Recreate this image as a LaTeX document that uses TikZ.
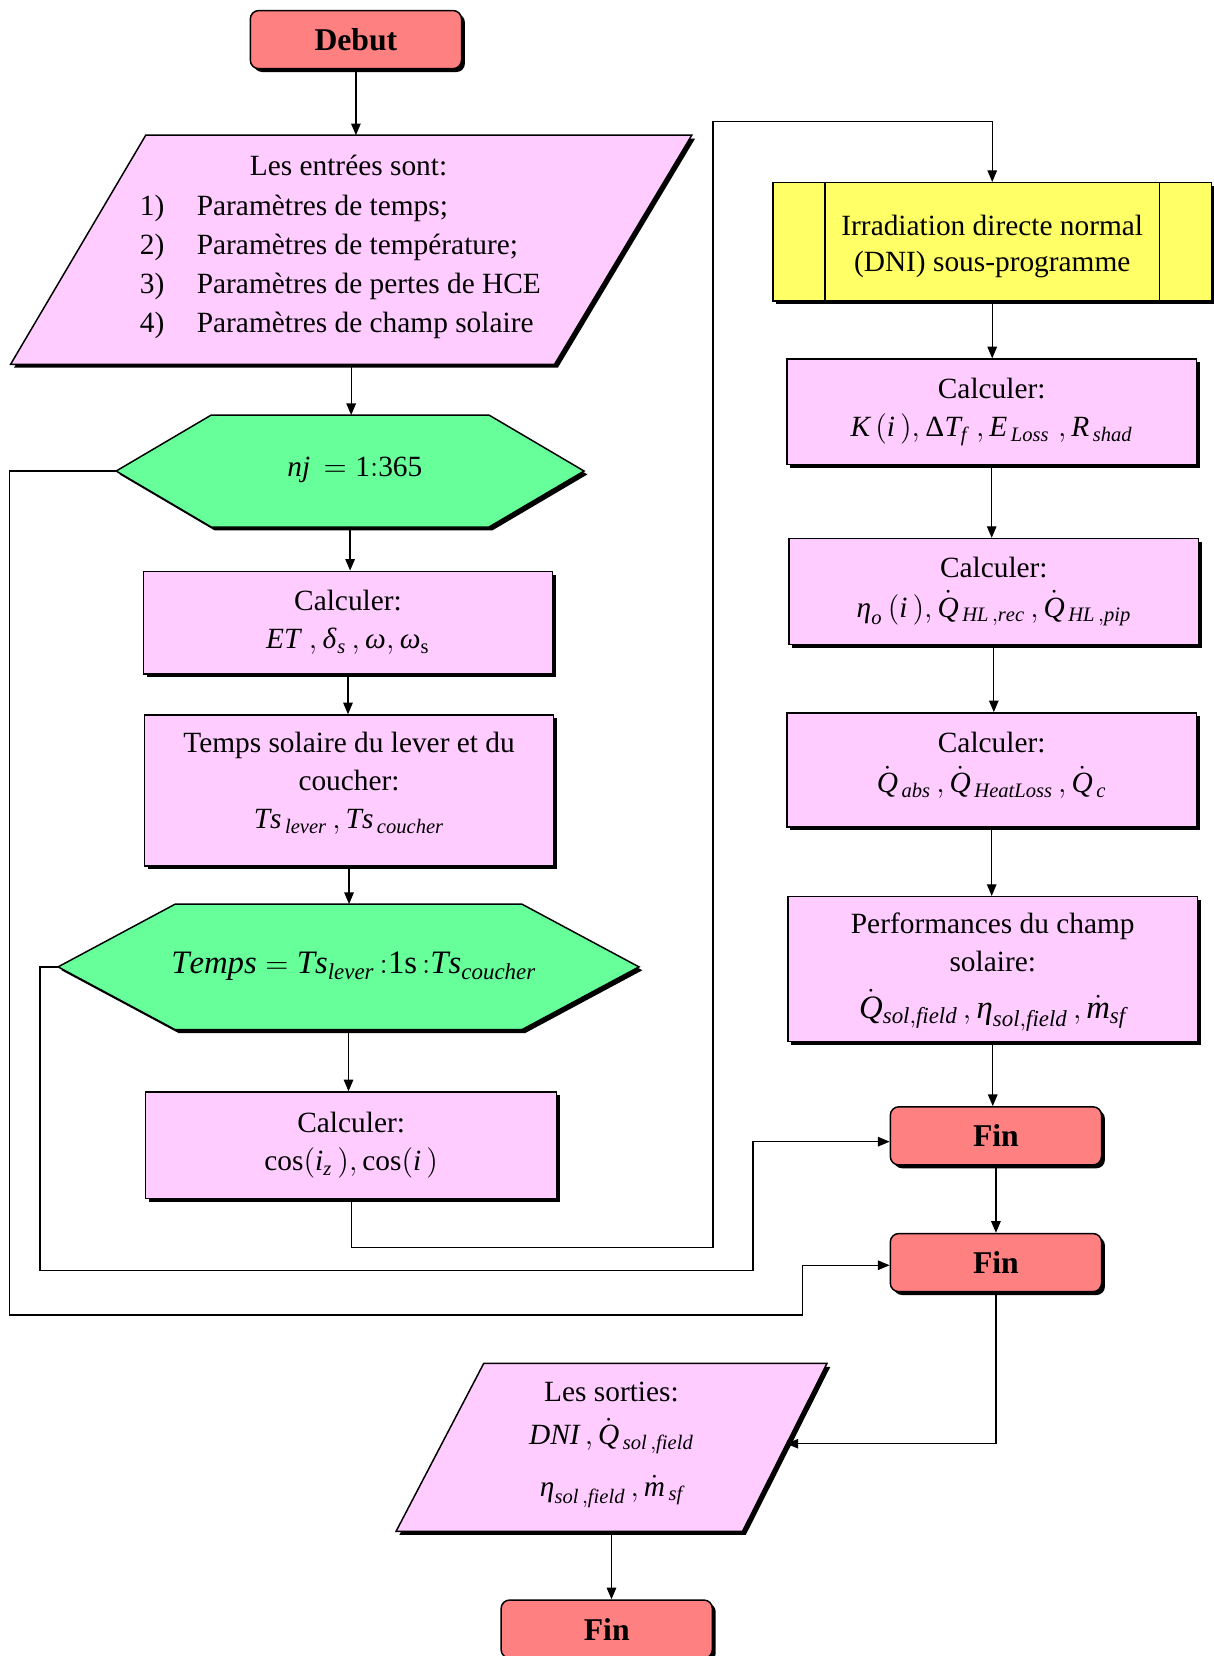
\documentclass[tikz,border=0pt]{standalone}
\usepackage{mathspec}
\setmainfont{Liberation Serif}
\setmathsfont(Digits,Latin,Greek){Liberation Serif}
\setmathrm{Liberation Serif}
\usetikzlibrary{arrows.meta,shadows,calc}
\definecolor{pinkf}{RGB}{255,204,255}
\definecolor{redf}{RGB}{255,128,128}
\definecolor{greenf}{RGB}{102,255,153}
\definecolor{yellowf}{RGB}{255,255,102}
\tikzset{
  dshad/.style={drop shadow={shadow xshift=1.6pt, shadow yshift=-1.6pt, fill=black, opacity=1}},
  shp/.style={draw, line width=0.7pt, dshad},
  box/.style={shp, fill=pinkf, align=center, inner sep=0pt},
  txt/.style={align=center, inner sep=0pt},
  term/.style={shp, fill=redf, rounded corners=4pt, font=\fontsize{15}{18}\selectfont\bfseries,
    minimum width=100pt, minimum height=27.5pt, inner sep=0pt},
  helper/.style={inner sep=0pt, outer sep=0pt},
  arr/.style={line width=0.6pt, -{Triangle[length=5.5pt,width=4.5pt]}},
}
\begin{document}
\begin{tikzpicture}[x=0.5pt, y=-0.5pt, font=\fontsize{13.9}{18}\selectfont]
\useasboundingbox (0,0) rectangle (1149,1568);

% ---------- left column ----------
\node[term] (debut) at (337,37.5) {Debut};

\node[helper, minimum width=322.5pt, minimum height=108.5pt] (inp) at (332.5,236.5) {};
\draw[shp, fill=pinkf] (inp.south west) -- ([xshift=64pt]inp.north west) -- (inp.north east)
  -- ([xshift=-65pt]inp.south east) -- cycle;
\node (inphead) at (330,157) {Les entrées sont:};
\node[align=left, anchor=west, inner sep=0pt, font=\fontsize{13.9}{18.5}\selectfont] (inplist) at (132,253)
  {\makebox[27pt][l]{1)}Paramètres de temps;\\
   \makebox[27pt][l]{2)}Paramètres de température;\\
   \makebox[27pt][l]{3)}Paramètres de pertes de HCE\\
   \makebox[27pt][l]{4)}Paramètres de champ solaire};

\node[helper, minimum width=221.5pt, minimum height=53pt] (nj) at (331.5,446) {};
\draw[shp, fill=greenf] (nj.west) -- ([xshift=45pt]nj.north west) -- ([xshift=-45pt]nj.north east)
  -- (nj.east) -- ([xshift=-45pt]nj.south east) -- ([xshift=45pt]nj.south west) -- cycle;
\node (njtxt) at (336,445) {$nj\,=1{:}365$};

\node[box, minimum width=193.5pt, minimum height=48.5pt] (calc1) at (329.5,589.5)
  {Calculer:\\ $ET\;,\delta_s\,,\omega,\omega_{\mathrm{s}}$};

\node[box, minimum width=193.5pt, minimum height=71.5pt] (ts) at (330.5,748.5) {};
\node[txt] (tstxt) at ([yshift=3.25pt]ts.center)
  {Temps solaire du lever et du\\ coucher:\\ $Ts_{\,lever}\,,Ts_{\,coucher}$};

\node[helper, minimum width=275pt, minimum height=59.5pt] (tps) at (330,915.5) {};
\draw[shp, fill=greenf] (tps.west) -- ([xshift=55.5pt]tps.north west) -- ([xshift=-55.5pt]tps.north east)
  -- (tps.east) -- ([xshift=-55.5pt]tps.south east) -- ([xshift=55.5pt]tps.south west) -- cycle;
\node[font=\fontsize{15.5}{19}\selectfont] (tpstxt) at (335,915)
  {$Temps=Ts_{lever}\,{:}1\mathrm{s}\,{:}Ts_{coucher}$};

\node[box, minimum width=194.5pt, minimum height=50.5pt] (calc2) at (332.5,1084.5)
  {Calculer:\\ $\cos(i_z\,),\cos(i\,)$};

% ---------- right column ----------
\node[shp, fill=yellowf, inner sep=0pt, minimum width=207.5pt, minimum height=56pt]
  (dni) at (939.5,229) {};
\draw[line width=0.7pt] ([xshift=25pt]dni.north west) -- ([xshift=25pt]dni.south west);
\draw[line width=0.7pt] ([xshift=-25pt]dni.north east) -- ([xshift=-25pt]dni.south east);
\node[txt, font=\fontsize{13.9}{17}\selectfont] (dnitxt) at ([yshift=-2pt]dni.center)
  {Irradiation directe normal\\ (DNI) sous-programme};

\node[box, minimum width=194pt, minimum height=50pt] (calcK) at (939,390)
  {Calculer:\\ $K\,(i\,),\Delta T_f\;,E_{\,Loss}\;,R_{\,shad}$};

\node[box, minimum width=194pt, minimum height=50pt] (calcE) at (941,560)
  {Calculer:\\[1pt] $\eta_o\,(i\,),\dot Q_{\,HL\,,rec}\,,\dot Q_{\,HL\,,pip}$};

\node[box, minimum width=194pt, minimum height=54pt] (calcQ) at (939,729) {};
\node[txt] (calcQtxt) at ([yshift=2pt]calcQ.center)
  {Calculer:\\[1pt] $\dot Q_{\,abs}\,,\dot Q_{\,HeatLoss}\,,\dot Q_{\,c}$};

\node[box, minimum width=194pt, minimum height=68.5pt] (perf) at (940,917.5) {};
\node[txt] (perftxt) at ([yshift=-1.5pt]perf.center)
  {Performances du champ\\ solaire:\\[4pt] {\fontsize{15.5}{18}\selectfont $\dot Q_{sol,field}\,,\eta_{sol,field}\,,\dot m_{sf}$}};

\node[term] (fin1) at (943,1075.5) {Fin};
\node[term] (fin2) at (943,1195.5) {Fin};

% ---------- output ----------
\node[helper, minimum width=204pt, minimum height=79.5pt] (out) at (579,1370.5) {};
\draw[shp, fill=pinkf] (out.south west) -- ([xshift=41.5pt]out.north west) -- (out.north east)
  -- ([xshift=-40pt]out.south east) -- cycle;
\coordinate (oedge) at ($(out.north east)!0.478!([xshift=-40pt]out.south east)$);
\node[align=center, font=\fontsize{13.9}{20.5}\selectfont] (outtxt) at (579,1368)
  {Les sorties:\\ $DNI\,,\dot Q_{\,sol\,,field}$\\[4pt] $\eta_{sol\,,field}\,,\dot m_{\,sf}$};

\node[term] (fin3) at (574.5,1542.5) {Fin};

% ---------- connectors ----------
\draw[arr] (debut.south) -- (debut.south |- inp.north);
\draw[arr] (inp.south) -- (inp.south |- nj.north);
\draw[arr] (nj.south) -- (nj.south |- calc1.north);
\draw[arr] (calc1.south) -- (calc1.south |- ts.north);
\draw[arr] (ts.south) -- (ts.south |- tps.north);
\draw[arr] (tps.south) -- (tps.south |- calc2.north);
\coordinate (c1) at (675,1181);
\coordinate (c2) at (675,115);
\draw[arr] (calc2.south) |- (c1) -- (c2) -| (dni.north);
\draw[arr] (dni.south) -- (dni.south |- calcK.north);
\draw[arr] (calcK.south) -- (calcK.south |- calcE.north);
\draw[arr] (calcE.south) -- (calcE.south |- calcQ.north);
\draw[arr] (calcQ.south) -- (calcQ.south |- perf.north);
\draw[arr] (perf.south) -- (perf.south |- fin1.north);
\draw[arr] (fin1.south) -- (fin2.north);
\coordinate (t1) at (38,1203);
\coordinate (t2) at (713,1203);
\draw[arr] (tps.west) -| (t1) -- (t2) |- ([yshift=-2.75pt]fin1.west);
\coordinate (n1) at (9,1245);
\coordinate (n2) at (760,1245);
\draw[arr] (nj.west) -| (n1) -- (n2) |- ([yshift=-1.25pt]fin2.west);
\draw[arr] (fin2.south) |- (oedge);
\draw[arr] (out.south) -- (out.south |- fin3.north);
\end{tikzpicture}
\end{document}
